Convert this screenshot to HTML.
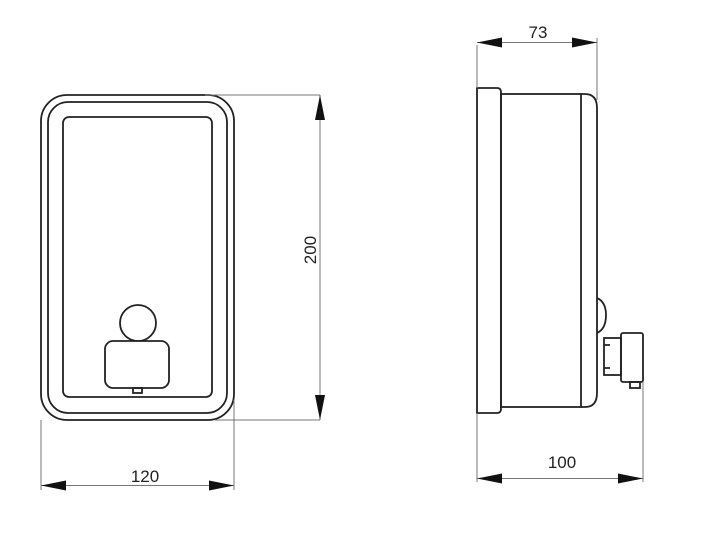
<!DOCTYPE html>
<html><head><meta charset="utf-8"><style>
html,body{margin:0;padding:0;background:#fff;width:721px;height:560px;overflow:hidden}
text{font-family:"Liberation Sans",sans-serif;font-size:17px;fill:#222}
</style></head><body>
<svg width="721" height="560" viewBox="0 0 721 560" xmlns="http://www.w3.org/2000/svg">
<g fill="none" stroke="#222" stroke-width="1.8">
<rect x="41" y="95" width="193" height="325" rx="26"/>
<rect x="48" y="102" width="179" height="311" rx="20"/>
<rect x="63" y="117" width="149" height="280" rx="6"/>
<circle cx="138" cy="323" r="18"/>
<rect x="105" y="341" width="64" height="47" rx="8" fill="#fff"/>
<rect x="133" y="388" width="9" height="5"/>
<path d="M477 88 H497 Q501 88 501 92 V409 Q501 413 497 413 H477 Z"/>
<rect x="501" y="94" width="80" height="313"/>
<path d="M581 94 H585 Q597 94 597 108 V393 Q597 407 585 407 H581"/>
<path d="M597 298 Q606 302 606 315 Q606 329 597 333"/>
<rect x="604" y="338" width="17" height="37"/>
<path d="M604 345 H610 M604 368 H610"/>
<rect x="621" y="333" width="22" height="49" rx="2"/>
<rect x="630" y="382" width="10" height="6"/>
</g>
<g stroke="#777" stroke-width="1" fill="none">
<path d="M205 95 H320 M215 420 H320 M320 95 V420"/>
<path d="M41 420 V490 M234 400 V490 M41 485.5 H234"/>
<path d="M477 88 V45 M597 100 V38 M477 42.5 H597"/>
<path d="M477 413 V482 M643 382 V482 M477 478.5 H643"/>
</g>
<g fill="#111">
<path d="M320 95 L315 120 L325 120 Z M320 420 L315 395 L325 395 Z"/>
<path d="M41 485.5 L66 480.5 L66 490.5 Z M234 485.5 L209 480.5 L209 490.5 Z"/>
<path d="M477 42.5 L502 37.5 L502 47.5 Z M597 42.5 L572 37.5 L572 47.5 Z"/>
<path d="M477 478.5 L502 473.5 L502 483.5 Z M643 478.5 L618 473.5 L618 483.5 Z"/>
</g>
<text x="145" y="482" text-anchor="middle">120</text>
<text transform="translate(316,250) rotate(-90)" text-anchor="middle">200</text>
<text x="538" y="38" text-anchor="middle">73</text>
<text x="562" y="468" text-anchor="middle">100</text>
</svg>
</body></html>
